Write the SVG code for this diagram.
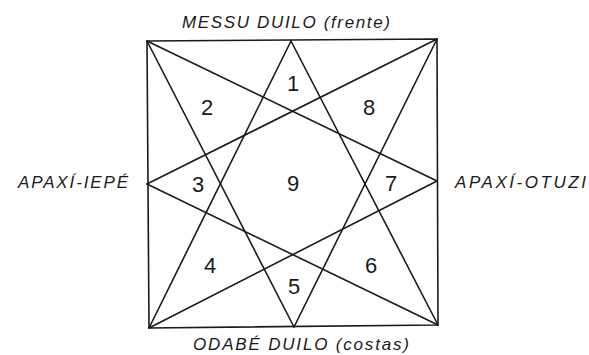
<svg xmlns="http://www.w3.org/2000/svg" width="589" height="355" viewBox="0 0 589 355">
<style>
.ln{stroke:#1a1a1a;stroke-width:1.6;fill:none;stroke-linecap:round;stroke-linejoin:round}
.num{font-family:"Liberation Sans",Arial,sans-serif;font-size:22px;fill:#1a1a1a;text-anchor:middle}
.lab{font-family:"Liberation Sans",Arial,sans-serif;font-size:17px;font-style:italic;fill:#1a1a1a}
</style>
<rect width="589" height="355" fill="#ffffff"/>
<g id="connectors">
<polygon class="ln" points="147,41 437,39 438,325 149,328"/>
<line class="ln" x1="147" y1="41" x2="437" y2="181"/>
<line class="ln" x1="147" y1="41" x2="294" y2="327"/>
<line class="ln" x1="437" y1="39" x2="147" y2="184"/>
<line class="ln" x1="437" y1="39" x2="294" y2="327"/>
<line class="ln" x1="149" y1="328" x2="291" y2="41"/>
<line class="ln" x1="149" y1="328" x2="437" y2="181"/>
<line class="ln" x1="438" y1="325" x2="291" y2="41"/>
<line class="ln" x1="438" y1="325" x2="147" y2="184"/>
</g>
<g id="regions">
<g id="r1"><text class="num" x="293" y="91">1</text></g>
<g id="r2"><text class="num" x="207" y="115">2</text></g>
<g id="r8"><text class="num" x="369" y="115">8</text></g>
<g id="r3"><text class="num" x="198" y="192">3</text></g>
<g id="r9"><text class="num" x="293" y="191">9</text></g>
<g id="r7"><text class="num" x="391" y="191">7</text></g>
<g id="r4"><text class="num" x="210" y="273">4</text></g>
<g id="r6"><text class="num" x="371" y="273">6</text></g>
<g id="r5"><text class="num" x="294" y="294">5</text></g>
</g>
<g id="top"><text class="lab" x="182" y="28" textLength="208" lengthAdjust="spacing">MESSU DUILO (frente)</text></g>
<g id="bottom"><text class="lab" x="193" y="350" textLength="216" lengthAdjust="spacing">ODABÉ DUILO (costas)</text></g>
<g id="left"><text class="lab" x="18" y="188" textLength="110" lengthAdjust="spacing">APAXÍ-IEPÉ</text></g>
<g id="right"><text class="lab" x="455" y="188" textLength="131" lengthAdjust="spacing">APAXÍ-OTUZI</text></g>
</svg>
